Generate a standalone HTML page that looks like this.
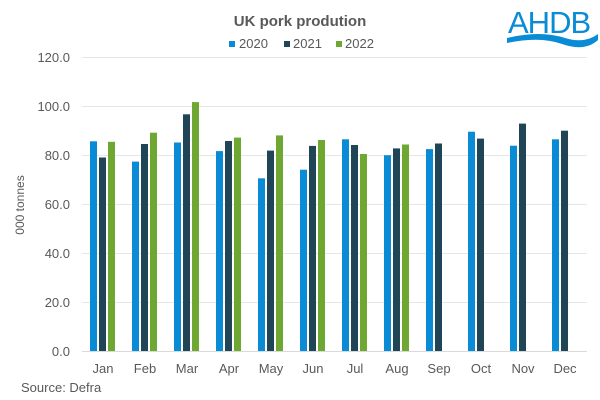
<!DOCTYPE html>
<html><head><meta charset="utf-8"><style>body{margin:0;background:#fff}svg{display:block}text{font-family:"Liberation Sans",Arial,sans-serif}</style></head><body>
<svg width="600" height="400" xmlns="http://www.w3.org/2000/svg">
<rect width="600" height="400" fill="#fff"/>
<text x="300" y="26" text-anchor="middle" font-size="15" font-weight="bold" fill="#595959">UK pork prodution</text>
<g font-size="13" fill="#595959">
<rect x="229" y="41" width="6" height="6" fill="#0a8bd6"/><text x="239" y="48">2020</text>
<rect x="284" y="41" width="6" height="6" fill="#1f4557"/><text x="293" y="48">2021</text>
<rect x="336" y="41" width="6" height="6" fill="#6ea832"/><text x="345" y="48">2022</text>
</g>
<g stroke="#e6e6e6" stroke-width="1">
<line x1="82" x2="587" y1="57.5" y2="57.5"/><line x1="82" x2="587" y1="106.5" y2="106.5"/><line x1="82" x2="587" y1="155.5" y2="155.5"/><line x1="82" x2="587" y1="204.5" y2="204.5"/><line x1="82" x2="587" y1="253.5" y2="253.5"/><line x1="82" x2="587" y1="302.5" y2="302.5"/>
</g>
<line x1="82" x2="587" y1="351.5" y2="351.5" stroke="#d9d9d9"/>
<g font-size="13" fill="#595959" text-anchor="end">
<text x="70" y="62">120.0</text><text x="70" y="111">100.0</text><text x="70" y="160">80.0</text><text x="70" y="209">60.0</text><text x="70" y="258">40.0</text><text x="70" y="307">20.0</text><text x="70" y="356">0.0</text>
</g>
<text transform="translate(24,205) rotate(-90)" text-anchor="middle" font-size="12" fill="#595959">000 tonnes</text>
<g fill="#0a8bd6">
<rect x="90" y="141.3" width="7" height="209.7"/>
<rect x="132" y="161.6" width="7" height="189.4"/>
<rect x="174" y="142.5" width="7" height="208.5"/>
<rect x="216" y="151.1" width="7" height="199.9"/>
<rect x="258" y="178.3" width="7" height="172.7"/>
<rect x="300" y="169.7" width="7" height="181.3"/>
<rect x="342" y="139.3" width="7" height="211.7"/>
<rect x="384" y="155.2" width="7" height="195.8"/>
<rect x="426" y="149.1" width="7" height="201.9"/>
<rect x="468" y="131.7" width="7" height="219.3"/>
<rect x="510" y="145.7" width="7" height="205.3"/>
<rect x="552" y="139.3" width="7" height="211.7"/>
</g>
<g fill="#1f4557">
<rect x="99" y="157.5" width="7" height="193.5"/>
<rect x="141" y="144" width="7" height="207"/>
<rect x="183" y="114.3" width="7" height="236.7"/>
<rect x="225" y="141" width="7" height="210"/>
<rect x="267" y="150.6" width="7" height="200.4"/>
<rect x="309" y="145.9" width="7" height="205.1"/>
<rect x="351" y="145" width="7" height="206"/>
<rect x="393" y="148.4" width="7" height="202.6"/>
<rect x="435" y="143.5" width="7" height="207.5"/>
<rect x="477" y="138.6" width="7" height="212.4"/>
<rect x="519" y="123.6" width="7" height="227.4"/>
<rect x="561" y="130.7" width="7" height="220.3"/>
</g>
<g fill="#6ea832">
<rect x="108" y="141.8" width="7" height="209.2"/>
<rect x="150" y="132.7" width="7" height="218.3"/>
<rect x="192" y="102.1" width="7" height="248.9"/>
<rect x="234" y="137.6" width="7" height="213.4"/>
<rect x="276" y="135.4" width="7" height="215.6"/>
<rect x="318" y="140" width="7" height="211"/>
<rect x="360" y="154" width="7" height="197"/>
<rect x="402" y="144.5" width="7" height="206.5"/>
</g>
<g font-size="13" fill="#595959" text-anchor="middle">
<text x="103" y="373">Jan</text><text x="145" y="373">Feb</text><text x="187" y="373">Mar</text><text x="229" y="373">Apr</text><text x="271" y="373">May</text><text x="313" y="373">Jun</text><text x="355" y="373">Jul</text><text x="397" y="373">Aug</text><text x="439" y="373">Sep</text><text x="481" y="373">Oct</text><text x="523" y="373">Nov</text><text x="565" y="373">Dec</text>
</g>
<text x="21" y="392" font-size="13" fill="#595959">Source: Defra</text>
<text x="508" y="33" font-size="31" fill="#0a8bd6" style="letter-spacing:-1px">AHDB</text>
<path d="M507 38 Q540 30 565 38 Q585 44 598 34 L598 40 Q585 52 562 44 Q540 36 507 43 Z" fill="#0a8bd6"/>
</svg>
</body></html>
